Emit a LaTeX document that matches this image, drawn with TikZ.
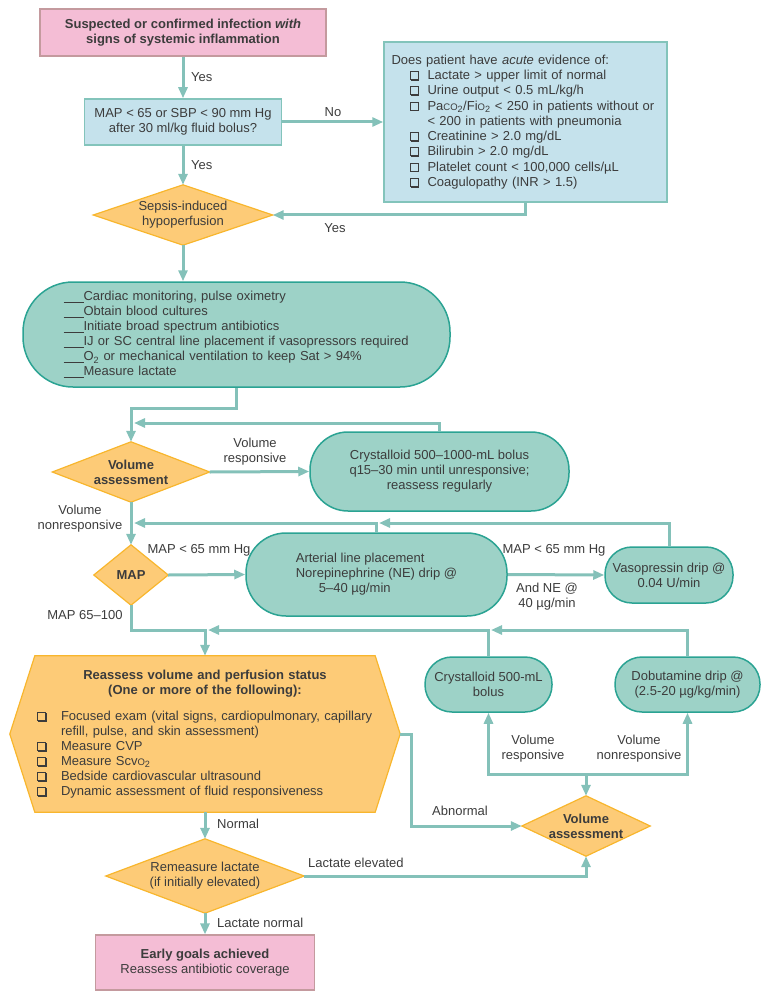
\documentclass[tikz,border=0pt]{standalone}
\usepackage{fontspec}
\setmainfont{Liberation Sans}
\usetikzlibrary{arrows.meta,backgrounds}
\definecolor{pinkf}{HTML}{F4BDD5}
\definecolor{pinkd}{HTML}{C49A9E}
\definecolor{bluef}{HTML}{C5E2EC}
\definecolor{blued}{HTML}{83C4BB}
\definecolor{tealf}{HTML}{9DD2C7}
\definecolor{teald}{HTML}{2BA393}
\definecolor{orf}{HTML}{FDCB77}
\definecolor{ord}{HTML}{F8B62D}
\definecolor{linec}{HTML}{84C1B9}
\definecolor{txt}{HTML}{3C3C3C}
\newsavebox\cbbox
\sbox\cbbox{\begin{tikzpicture}[baseline=0pt]
 \draw[txt, line width=0.8pt] (0,0) rectangle (8pt,8pt);
 \draw[txt, line width=1.5pt] (1pt,-0.4pt) -- (8.8pt,-0.4pt) -- (8.8pt,7pt);
\end{tikzpicture}}
\newcommand\cb{\usebox\cbbox}
\newcommand\smc[1]{{\fontsize{9.5}{15}\selectfont #1}}
\newcommand\blank{\rule[-1.5pt]{20pt}{0.7pt}}
\tikzset{
 base/.style={font=\fontsize{13}{15}\selectfont, text=txt, inner sep=0pt},
 boldf/.style={font=\fontsize{13}{15}\selectfont\bfseries},
 pinkbox/.style={base, draw=pinkd, fill=pinkf, line width=1.2pt, align=center},
 bluebox/.style={base, draw=blued, fill=bluef, line width=1.5pt},
 pill/.style={base, draw=teald, fill=tealf, line width=1.5pt, align=center},
 dnode/.style={base, align=center},
 dshape/.style={fill=orf, draw=ord, line width=1.2pt},
 arr/.style={draw=linec, line width=3pt, -{Triangle[width=9pt,length=11pt]}},
 lbl/.style={base, align=center},
}
\begin{document}
\begin{tikzpicture}[x=1pt,y=-1pt]
\useasboundingbox (0,0) rectangle (770,1000);

% ---- boxes
\node[pinkbox, boldf, minimum width=286pt, minimum height=47pt] (start) at (183,32.5)
 {Suspected or confirmed infection \textit{with}\\signs of systemic inflammation};
\node[bluebox, align=center, minimum width=197pt, minimum height=46pt] (mapq) at (183,122)
 {MAP < 65 or SBP < 90 mm Hg\\after 30 ml/kg fluid bolus?};
\node[bluebox, minimum width=283pt, minimum height=160pt, text width=268pt, align=left,
 font=\fontsize{13}{15.25}\selectfont] (evid) at (525.5,122)
 {Does patient have \textit{acute} evidence of:\\
 \hspace*{18pt}\makebox[18pt][l]{\cb}Lactate > upper limit of normal\\
 \hspace*{18pt}\makebox[18pt][l]{\cb}Urine output < 0.5 mL/kg/h\\
 \hspace*{18pt}\makebox[18pt][l]{\cb}Pa\smc{CO}\textsubscript{2}/Fi\smc{O}\textsubscript{2} < 250 in patients without or\\
 \hspace*{36pt}< 200 in patients with pneumonia\\
 \hspace*{18pt}\makebox[18pt][l]{\cb}Creatinine > 2.0 mg/dL\\
 \hspace*{18pt}\makebox[18pt][l]{\cb}Bilirubin > 2.0 mg/dL\\
 \hspace*{18pt}\makebox[18pt][l]{\cb}Platelet count < 100,000 cells/µL\\
 \hspace*{18pt}\makebox[18pt][l]{\cb}Coagulopathy (INR > 1.5)};

\node[dnode, minimum width=179pt, minimum height=60pt] (sep) at (183,215)
 {Sepsis-induced\\hypoperfusion};

\node[pill, rounded corners=50pt, minimum width=427pt, minimum height=105pt,
 text width=346pt, align=left] (big) at (236.5,334.5)
 {\blank Cardiac monitoring, pulse oximetry\\
 \blank Obtain blood cultures\\
 \blank Initiate broad spectrum antibiotics\\
 \blank IJ or SC central line placement if vasopressors required\\
 \blank O\textsubscript{2} or mechanical ventilation to keep Sat > 94\%\\
 \blank Measure lactate};

\node[dnode, boldf, minimum width=157pt, minimum height=60pt] (va1) at (131,472)
 {Volume\\assessment};
\node[pill, rounded corners=38pt, minimum width=259pt, minimum height=79pt] (crys) at (439.5,471.5)
 {Crystalloid 500–1000-mL bolus\\q15–30 min until unresponsive;\\reassess regularly};

\node[dnode, boldf, minimum width=74pt, minimum height=60pt] (mapd) at (131,575) {MAP};
\node[pill, rounded corners=40pt, minimum width=261pt, minimum height=83pt, align=left] (art) at (376.5,574.5)
 {Arterial line placement\\Norepinephrine (NE) drip @\\\hspace*{23pt}5–40 µg/min};
\node[pill, rounded corners=27pt, minimum width=128pt, minimum height=56pt] (vaso) at (669,575)
 {Vasopressin drip @\\0.04 U/min};

\node[base, minimum width=390pt, minimum height=156pt, text width=336pt, align=left] (hex) at (205,734)
 {\makebox[336pt][c]{\bfseries Reassess volume and perfusion status}\\
 \makebox[336pt][c]{\bfseries (One or more of the following):}\\[11pt]
 \makebox[24pt][l]{\cb}Focused exam (vital signs, cardiopulmonary, capillary\\
 \hspace*{24pt}refill, pulse, and skin assessment)\\
 \makebox[24pt][l]{\cb}Measure CVP\\
 \makebox[24pt][l]{\cb}Measure Scv\smc{O}\textsubscript{2}\\
 \makebox[24pt][l]{\cb}Bedside cardiovascular ultrasound\\
 \makebox[24pt][l]{\cb}Dynamic assessment of fluid responsiveness};

\node[pill, rounded corners=27pt, minimum width=127pt, minimum height=55pt] (cry5) at (488.5,684.5)
 {Crystalloid 500-mL\\bolus};
\node[pill, rounded corners=27pt, minimum width=145pt, minimum height=55pt] (dobu) at (687.5,684.5)
 {Dobutamine drip @\\(2.5-20 µg/kg/min)};
\node[dnode, boldf, minimum width=128pt, minimum height=60pt] (va2) at (586,826)
 {Volume\\assessment};
\node[dnode, minimum width=198pt, minimum height=74pt] (rem) at (205,876)
 {Remeasure lactate\\(if initially elevated)};
\node[pinkbox, minimum width=219pt, minimum height=55pt] (end) at (205,962.5)
 {\textbf{Early goals achieved}\\Reassess antibiotic coverage};

% ---- diamond / hexagon shapes
\begin{scope}[on background layer]
 \foreach \n in {sep,va1,mapd,va2,rem}
  {\filldraw[dshape] (\n.north) -- (\n.east) -- (\n.south) -- (\n.west) -- cycle;}
 \filldraw[dshape] (hex.west) -- ([xshift=25pt]hex.north west) -- ([xshift=-25pt]hex.north east)
  -- (hex.east) -- ([xshift=-25pt]hex.south east) -- ([xshift=25pt]hex.south west) -- cycle;
\end{scope}

% ---- free ends of feedback connectors
\coordinate (j1) at (134,423);
\coordinate (j2) at (134,523);
\coordinate (j3) at (379,523);
\coordinate (j4) at (208,630);
\coordinate (j5) at (491,630);
\coordinate (cj) at (586,774);

% ---- connectors
\draw[arr] (start.south) -- (mapq.north);
\draw[arr] (mapq.east) -- (evid.west);
\draw[arr] (mapq.south) -- (sep.north);
\draw[arr] (evid.south) |- (sep.east);
\draw[arr] (sep.south) -- (sep.south |- big.north);
\draw[arr] (big.south) -- ++(0,21) -| (va1.north);
\draw[arr] (crys.north) |- (j1);
\draw[arr] (va1.east) -- (crys.west);
\draw[arr] (va1.south) -- (mapd.north);
\draw[arr] (art.north) |- (j2);
\draw[arr] (vaso.north) |- (j3);
\draw[arr] (mapd.east) -- (art.west);
\draw[arr] (art.east) -- (vaso.west);
\draw[arr] (mapd.south) -- ++(0,25) -| (hex.north);
\draw[arr] (cry5.north) |- (j4);
\draw[arr] (dobu.north) |- (j5);
\draw[arr] (hex.east) -- ++(11,0) |- (va2.west);
\draw[arr] (cj) -| (cry5.south);
\draw[arr] (cj) -| (dobu.south);
\draw[arr] (cj) -- (va2.north);
\draw[arr] (hex.south) -- (rem.north);
\draw[arr] (rem.east) -| (va2.south);
\draw[arr] (rem.south) -- (end.north);

% ---- labels
\node[lbl, anchor=west] (lyes1) at (191,77) {Yes};
\node[lbl] (lno) at (333,112) {No};
\node[lbl, anchor=west] (lyes2) at (191,165) {Yes};
\node[lbl] (lyes3) at (335,228) {Yes};
\node[lbl] (lvr1) at (255,451.5) {Volume\\responsive};
\node[lbl] (lvn1) at (80,518.5) {Volume\\nonresponsive};
\node[lbl] (lmap1) at (199,550) {MAP < 65 mm Hg};
\node[lbl] (lmap2) at (554,550) {MAP < 65 mm Hg};
\node[lbl] (lne) at (547,597) {And NE @\\40 µg/min};
\node[lbl] (lm65) at (85,615) {MAP 65–100};
\node[lbl] (lvr2) at (533,749) {Volume\\responsive};
\node[lbl] (lvn2) at (639,749) {Volume\\nonresponsive};
\node[lbl] (labn) at (460,811) {Abnormal};
\node[lbl, anchor=west] (lnorm) at (217,824) {Normal};
\node[lbl, anchor=west] (lle) at (308,863) {Lactate elevated};
\node[lbl, anchor=west] (lln) at (217,923) {Lactate normal};
\end{tikzpicture}
\end{document}
